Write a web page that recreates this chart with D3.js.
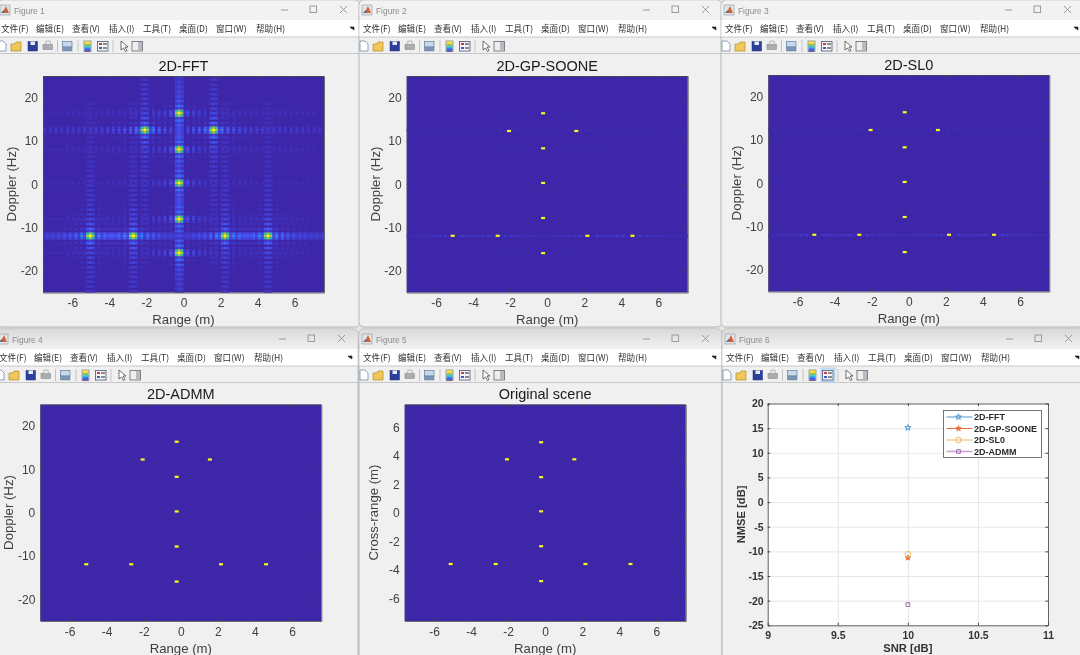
<!DOCTYPE html>
<html>
<head>
<meta charset="utf-8">
<script src="https://cdn.jsdelivr.net/npm/d3@7"></script>
<style>
html, body { margin: 0; padding: 0; background: #e4e4e4; overflow: hidden; }
svg { display: block; filter: blur(0.3px); }
text { font-family: "Liberation Sans", Arial, sans-serif; }
.menu { font-family: "Noto Sans CJK SC", sans-serif; font-size: 8.6px; fill: #303030; }
.tick text { font-family: "Liberation Sans", Arial, sans-serif; }
</style>
</head>
<body>
<div id="chart"></div>
<script>
// scene: positions
var targetRange = [-0.22, -2.06, 1.57, -0.22, -0.22, -0.22, -5.1, -2.67, 2.17, 4.6, -0.22];
var targetDoppler = [16.4, 12.3, 12.3, 8.3, 0.3, -7.8, -11.9, -11.9, -11.9, -11.9, -15.9];
var targetCross = [4.95, 3.75, 3.75, 2.5, 0.1, -2.35, -3.6, -3.6, -3.6, -3.6, -4.8];

// how far each target's sidelobes carry along its row / its column in the 2D-FFT panel
var targetRowSpread = [.6, 1.1, 1.1, .6, .5, .6, 1.3, 1.3, 1.3, 1.3, .6];
var targetColSpread = [1, .85, .85, 1, 1, 1, .85, .85, .85, .85, 1];

// sidelobe level by cell offset from a peak
var rangeLobes = [1, .7, .1, .22, .02, .16, .015, .125, .012, .105, .01, .09, .01, .08, .01, .075, .008, .07, .008, .066,
  .008, .062, .007, .06, .007, .058, .007, .056, .006, .054, .006, .052, .006, .05, .006, .05, .005, .048, .005, .048,
  .005, .046, .005, .046, .005, .045, .005, .045];
var dopplerLobes = [1, .7, .1, .24, .02, .18, .015, .14, .012, .12, .01, .105, .01, .095, .01, .085, .008, .08, .008, .075,
  .008, .07, .007, .068, .007, .065, .007, .062, .006, .06, .006, .058, .006, .055, .006, .052, .005, .05, .005, .048,
  .005, .046, .005, .045, .005, .044, .005, .042, .005, .04, .005, .04, .005, .038, .005, .036];

// faint leftovers along the rows in the sparse panels
var soonStreakRows = [-11.9, 12.3, 8.3, -15.9, 16.4];
var soonStreakLevels = [.3, .14, .07, .06, .06];
var sl0StreakRows = [-11.9, 12.3];
var sl0StreakLevels = [.32, .1];

var snr = [10];
var nmseFFT = [15.1];
var nmseGP = [-11.3];
var nmseSL0 = [-10.6];
var nmseADMM = [-20.8];
var legendNames = ["2D-FFT", "2D-GP-SOONE", "2D-SL0", "2D-ADMM"];

var menuLabels = ["文件(F)", "编辑(E)", "查看(V)", "插入(I)", "工具(T)", "桌面(D)", "窗口(W)", "帮助(H)"];
var menuOffsets = [4, 39, 75, 112, 146, 182, 219, 259];
var rangeTicks = [-6, -4, -2, 0, 2, 4, 6];
var dopplerTicks = [-20, -10, 0, 10, 20];
var crossTicks = [-6, -4, -2, 0, 2, 4, 6];
var snrTicks = [9, 9.5, 10, 10.5, 11];
var nmseTicks = [-25, -20, -15, -10, -5, 0, 5, 10, 15, 20];

var parula = ["#3e26a8", "#4752f4", "#2d87f7", "#12b1d6", "#37c897", "#abc739", "#fec338", "#f9fb15"];
var color = d3.scaleLinear().domain(parula.map(function(d, i) { return i / 7; })).range(parula).clamp(true);

var nCols = 98, nRows = 90;
var rangeDomain = [-7.58, 7.58];
var plainNumber = function(d) { return String(d); };

var svg = d3.select("#chart").append("svg").attr("width", 1080).attr("height", 655);
var defs = svg.append("defs");

var blur = defs.append("filter").attr("id", "soft").attr("color-interpolation-filters", "sRGB")
  .attr("x", "-2%").attr("y", "-2%").attr("width", "104%").attr("height", "104%");
blur.append("feGaussianBlur").attr("stdDeviation", "0.55");

var tg = defs.append("linearGradient").attr("id", "titlebar").attr("x1", 0).attr("y1", 0).attr("x2", 0).attr("y2", 1);
tg.append("stop").attr("offset", 0).attr("stop-color", "#dadada");
tg.append("stop").attr("offset", 1).attr("stop-color", "#f1f1f1");

//draw one window frame: title bar, menu strip and toolbar
function drawWindow(wx, wy, title, h, selectedLegend) {
  var g = svg.append("g").attr("transform", "translate(" + wx + "," + wy + ")");
  g.append("rect").attr("width", 363).attr("height", h).attr("rx", 5).attr("fill", "#f0f0f0")
    .attr("stroke", "#a8a8a8").attr("stroke-width", 0.8);
  g.append("rect").attr("x", 0.5).attr("y", 0.5).attr("width", 362).attr("height", 19).attr("rx", 5)
    .attr("fill", wy > 0 ? "url(#titlebar)" : "#f2f2f2");
  g.append("rect").attr("y", 20).attr("x", 0.5).attr("width", 362).attr("height", 17).attr("fill", "#ffffff");
  g.append("line").attr("x1", 0).attr("x2", 363).attr("y1", 37).attr("y2", 37).attr("stroke", "#c8c8c8");
  g.append("line").attr("x1", 0).attr("x2", 363).attr("y1", 53.5).attr("y2", 53.5).attr("stroke", "#c8c8c8");

  // matlab icon
  g.append("rect").attr("x", 3).attr("y", 5).attr("width", 10).attr("height", 10).attr("fill", "#dfe4ea").attr("stroke", "#8a98a8").attr("stroke-width", 0.6);
  g.append("path").attr("d", "M4 13 L7 10 L9 6 L12 13 Z").attr("fill", "#d9622b");
  g.append("path").attr("d", "M4 13 L7 10 L8 12 Z").attr("fill", "#3c6fb0");

  g.append("text").attr("x", 17).attr("y", 14).attr("font-size", 8.4).attr("fill", "#8c8c8c").text(title);

  // window buttons
  g.append("line").attr("x1", 284).attr("x2", 291).attr("y1", 10).attr("y2", 10).attr("stroke", "#9a9a9a");
  g.append("rect").attr("x", 313).attr("y", 6).attr("width", 6.5).attr("height", 6.5).attr("fill", "none").attr("stroke", "#9a9a9a");
  g.append("path").attr("d", "M343 6 L350 13 M350 6 L343 13").attr("stroke", "#9a9a9a").attr("fill", "none");

  g.selectAll("text.menu").data(menuLabels).enter().append("text").attr("class", "menu")
    .attr("x", function(d, i) { return menuOffsets[i]; }).attr("y", 32.3)
    .text(function(d) { return d; });
  g.append("path").attr("d", "M353 27 L357 30 L357 27 Z M353 27 L355 29").attr("fill", "#222").attr("stroke", "#222").attr("stroke-width", 0.6);

  // toolbar
  var t = g.append("g").attr("transform", "translate(0,40)");
  if (selectedLegend) {
    t.append("rect").attr("x", 99).attr("y", -1).attr("width", 14).attr("height", 13.5).attr("fill", "#cde4f7").attr("stroke", "#90c4ea").attr("stroke-width", 0.6);
  }
  t.append("path").attr("d", "M1 1 H6 L9 4 V11 H1 Z").attr("fill", "#ffffff").attr("stroke", "#5f7f9f").attr("stroke-width", 0.7);
  t.append("path").attr("d", "M14 4 H18 L19 2 H24 V11 H14 Z").attr("fill", "#f0c75a").attr("stroke", "#b48a2a").attr("stroke-width", 0.7);
  t.append("rect").attr("x", 31).attr("y", 1.5).attr("width", 9.5).attr("height", 9.5).attr("fill", "#2c3f9a").attr("stroke", "#20307a").attr("stroke-width", 0.5);
  t.append("rect").attr("x", 33.5).attr("y", 1.5).attr("width", 4.5).attr("height", 3.5).attr("fill", "#e8ecf4");
  t.append("rect").attr("x", 46).attr("y", 4.5).attr("width", 9.5).attr("height", 5).attr("fill", "#a9adb2").attr("stroke", "#7b7f85").attr("stroke-width", 0.5);
  t.append("path").attr("d", "M48 4.5 L49 1 H53 L54 4.5 Z").attr("fill", "#e6e6e6").attr("stroke", "#8c8c8c").attr("stroke-width", 0.5);
  t.append("rect").attr("x", 65.5).attr("y", 1.5).attr("width", 9.5).attr("height", 5.5).attr("fill", "#c9d7ea").attr("stroke", "#5f7f9f").attr("stroke-width", 0.7);
  t.append("rect").attr("x", 65.5).attr("y", 7).attr("width", 9.5).attr("height", 4).attr("fill", "#7d94b5").attr("stroke", "#5f7f9f").attr("stroke-width", 0.5);
  parula.forEach(function(c, i) {
    t.append("rect").attr("x", 87.5).attr("y", 1.2 + (7 - i) * 1.3).attr("width", 6).attr("height", 1.4).attr("fill", c);
  });
  t.append("rect").attr("x", 87).attr("y", 1).attr("width", 7).attr("height", 10.6).attr("fill", "none").attr("stroke", "#6a6a6a").attr("stroke-width", 0.6);
  t.append("rect").attr("x", 100.5).attr("y", 1.5).attr("width", 10.5).attr("height", 9.5).attr("fill", "#f5f5f5").attr("stroke", "#44557a").attr("stroke-width", 0.8);
  t.append("rect").attr("x", 102).attr("y", 3).attr("width", 3).attr("height", 2).attr("fill", "#cc3b3b");
  t.append("rect").attr("x", 102).attr("y", 7).attr("width", 3).attr("height", 2).attr("fill", "#3b58cc");
  t.append("rect").attr("x", 106).attr("y", 3).attr("width", 4).attr("height", 2).attr("fill", "#8a8a8a");
  t.append("rect").attr("x", 106).attr("y", 7).attr("width", 4).attr("height", 2).attr("fill", "#8a8a8a");
  t.append("path").attr("d", "M124 1 V10 L126.5 8 L128.5 11.5 L130 10.6 L128 7 L131 7 Z").attr("fill", "#ffffff").attr("stroke", "#333").attr("stroke-width", 0.7);
  t.append("rect").attr("x", 135).attr("y", 1.5).attr("width", 10.5).attr("height", 9.5).attr("fill", "#eeeeee").attr("stroke", "#555").attr("stroke-width", 0.7);
  t.append("rect").attr("x", 141).attr("y", 2).attr("width", 4).attr("height", 8.5).attr("fill", "#b5bcc6");
  [60.5, 81, 116].forEach(function(x) {
    t.append("line").attr("x1", x).attr("x2", x).attr("y1", 0).attr("y2", 12).attr("stroke", "#c4c4c4");
  });
}

//cell values for a dense panel: the strongest sidelobe of any target wins
function denseCells(cellCol, cellRow) {
  var cells = [];
  var tCols = targetRange.map(function(d) { return cellCol(d); });
  var tRows = targetDoppler.map(function(d) { return cellRow(d); });
  d3.range(nRows).forEach(function(r) {
    d3.range(nCols).forEach(function(c) {
      var v = 0;
      tCols.forEach(function(tc, i) {
        var dc = Math.abs(c - tc), dr = Math.abs(r - tRows[i]);
        var a = (rangeLobes[dc] || 0) * (dc < 2 ? 1 : targetRowSpread[i]);
        var b = (dopplerLobes[dr] || 0) * (dr < 2 ? 1 : targetColSpread[i]);
        v = Math.max(v, a * b);
      });
      if (v > 0.02) cells.push({ row: r, col: c, value: v });
    });
  });
  return cells;
}

//faint rows for a sparse panel, the same sidelobes but much weaker
function streakCells(cellCol, cellRow, yValues, streakRows, streakLevels) {
  var cells = [];
  var tCols = targetRange.map(function(d) { return cellCol(d); });
  streakRows.forEach(function(rowValue, k) {
    var r = cellRow(rowValue);
    d3.range(nCols).forEach(function(c) {
      var v = 0;
      tCols.forEach(function(tc, i) {
        var dc = Math.abs(c - tc);
        if (cellRow(yValues[i]) == r && dc > 2) v = Math.max(v, rangeLobes[dc] || 0);
      });
      v *= streakLevels[k];
      if (v > 0.004) cells.push({ row: r, col: c, value: v });
    });
  });
  return cells;
}

//draw one image panel with its box, ticks and labels
function drawPanel(p) {
  var x = d3.scaleLinear().domain(rangeDomain).range([p.left, p.left + 281]);
  var y = d3.scaleLinear().domain(p.yDomain).range([p.top + 216.5, p.top]);
  var cellCol = d3.scaleLinear().domain(rangeDomain).rangeRound([-0.5, nCols - 0.5]);
  var cellRow = d3.scaleLinear().domain(p.yDomain).rangeRound([nRows - 0.5, -0.5]);
  var bandX = d3.scaleBand().domain(d3.range(nCols)).range([p.left, p.left + 281]);
  var bandY = d3.scaleBand().domain(d3.range(nRows)).range([p.top, p.top + 216.5]);

  var cells = p.dense ? denseCells(cellCol, cellRow)
    : streakCells(cellCol, cellRow, p.yValues, p.streakRows, p.streakLevels);

  svg.append("rect").attr("x", p.left).attr("y", p.top).attr("width", 281).attr("height", 216.5).attr("fill", parula[0]);

  var img = svg.append("g").attr("filter", "url(#soft)");
  img.selectAll("rect").data(cells).enter().append("rect")
    .attr("x", function(d) { return bandX(d.col); })
    .attr("y", function(d) { return bandY(d.row); })
    .attr("width", bandX.bandwidth() + 0.2)
    .attr("height", bandY.bandwidth() + 0.2)
    .attr("fill", function(d) { return color(d.value); });

  // the recovered targets are single bright pixels
  if (!p.dense) {
    svg.append("g").selectAll("rect").data(targetRange).enter().append("rect")
      .attr("x", function(d) { return x(d) - 2; })
      .attr("y", function(d, i) { return y(p.yValues[i]) - 1.1; })
      .attr("width", 4)
      .attr("height", 2.2)
      .attr("fill", parula[7]);
  }

  var axisColor = "#4a4a4a";
  function style(g) {
    g.selectAll("path").attr("stroke", axisColor).attr("stroke-width", 0.8);
    g.selectAll("line").attr("stroke", axisColor).attr("stroke-width", 0.7);
    g.selectAll("text").attr("fill", "#404040").attr("font-size", 12);
  }

  svg.append("g").attr("transform", "translate(0," + (p.top + 216.5) + ")")
    .call(d3.axisBottom(x).tickValues(rangeTicks).tickFormat(plainNumber).tickSizeInner(-3).tickSizeOuter(0).tickPadding(6))
    .call(style);
  svg.append("g").attr("transform", "translate(0," + p.top + ")")
    .call(d3.axisTop(x).tickValues(rangeTicks).tickFormat("").tickSizeInner(-3).tickSizeOuter(0))
    .call(style);
  svg.append("g").attr("transform", "translate(" + p.left + ",0)")
    .call(d3.axisLeft(y).tickValues(p.yTicks).tickFormat(plainNumber).tickSizeInner(-3).tickSizeOuter(0).tickPadding(5))
    .call(style);
  svg.append("g").attr("transform", "translate(" + (p.left + 281) + ",0)")
    .call(d3.axisRight(y).tickValues(p.yTicks).tickFormat("").tickSizeInner(-3).tickSizeOuter(0))
    .call(style);

  svg.append("text").attr("x", p.left + 140.5).attr("y", p.top - 5.5).attr("text-anchor", "middle")
    .attr("font-size", 14.5).attr("fill", "#1a1a1a").text(p.title);
  svg.append("text").attr("x", p.left + 140.5).attr("y", p.top + 248).attr("text-anchor", "middle")
    .attr("font-size", 13.2).attr("fill", "#404040").text("Range (m)");
  svg.append("text").attr("transform", "translate(" + (p.left - 27) + "," + (p.top + 108) + ") rotate(-90)")
    .attr("text-anchor", "middle").attr("font-size", 13.2).attr("fill", "#404040").text(p.yLabel);
}

//the NMSE figure in the last window
function drawNmse() {
  var left = 767.7, right = 1048, top = 403.5, bottom = 625.3;
  var x = d3.scaleLinear().domain([9, 11]).range([left, right]);
  var y = d3.scaleLinear().domain([-25, 20]).range([bottom, top]);

  svg.append("rect").attr("x", left).attr("y", top).attr("width", right - left).attr("height", bottom - top).attr("fill", "#ffffff");

  var axisColor = "#444";
  function style(g) {
    g.selectAll("path").attr("stroke", axisColor).attr("stroke-width", 0.8);
    g.selectAll("text").attr("fill", "#333").attr("font-size", 10.5).attr("font-weight", "bold");
  }
  // grid
  svg.append("g").attr("transform", "translate(0," + bottom + ")")
    .call(d3.axisBottom(x).tickValues(snrTicks).tickFormat("").tickSizeInner(-(bottom - top)).tickSizeOuter(0))
    .call(function(g) { g.select(".domain").remove(); g.selectAll("line").attr("stroke", "#e6e6e6"); });
  svg.append("g").attr("transform", "translate(" + left + ",0)")
    .call(d3.axisLeft(y).tickValues(nmseTicks).tickFormat("").tickSizeInner(-(right - left)).tickSizeOuter(0))
    .call(function(g) { g.select(".domain").remove(); g.selectAll("line").attr("stroke", "#e6e6e6"); });

  svg.append("g").attr("transform", "translate(0," + bottom + ")")
    .call(d3.axisBottom(x).tickValues(snrTicks).tickFormat(plainNumber).tickSizeInner(-2.5).tickSizeOuter(0).tickPadding(6))
    .call(style).selectAll("line").attr("stroke", axisColor);
  svg.append("g").attr("transform", "translate(0," + top + ")")
    .call(d3.axisTop(x).tickValues(snrTicks).tickFormat("").tickSizeInner(-2.5).tickSizeOuter(0))
    .call(style).selectAll("line").attr("stroke", axisColor);
  svg.append("g").attr("transform", "translate(" + left + ",0)")
    .call(d3.axisLeft(y).tickValues(nmseTicks).tickFormat(plainNumber).tickSizeInner(-2.5).tickSizeOuter(0).tickPadding(4))
    .call(style).selectAll("line").attr("stroke", axisColor);
  svg.append("g").attr("transform", "translate(" + right + ",0)")
    .call(d3.axisRight(y).tickValues(nmseTicks).tickFormat("").tickSizeInner(-2.5).tickSizeOuter(0))
    .call(style).selectAll("line").attr("stroke", axisColor);

  svg.append("text").attr("x", (left + right) / 2).attr("y", 651.5).attr("text-anchor", "middle")
    .attr("font-size", 11.2).attr("font-weight", "bold").attr("fill", "#333").text("SNR [dB]");
  svg.append("text").attr("transform", "translate(745," + ((top + bottom) / 2) + ") rotate(-90)")
    .attr("text-anchor", "middle").attr("font-size", 11.2).attr("font-weight", "bold").attr("fill", "#333").text("NMSE [dB]");

  var series = [
    { values: nmseFFT, color: "#4c97cf", symbol: d3.symbolStar, size: 11, fillIn: false, width: 1 },
    { values: nmseGP, color: "#e2703a", symbol: d3.symbolStar, size: 9, fillIn: true, width: 1 },
    { values: nmseSL0, color: "#edb95a", symbol: d3.symbolCircle, size: 26, fillIn: false, width: 1 },
    { values: nmseADMM, color: "#a468b5", symbol: d3.symbolSquare, size: 14, fillIn: false, width: 1 }
  ];

  function marker(g, s, px, py) {
    g.append("path").attr("transform", "translate(" + px + "," + py + ")")
      .attr("d", d3.symbol().type(s.symbol).size(s.size)())
      .attr("fill", s.fillIn ? s.color : "none")
      .attr("stroke", s.color).attr("stroke-width", s.width);
  }

  var points = svg.append("g");
  series.forEach(function(s) {
    s.values.forEach(function(v, i) {
      marker(points, s, x(snr[i]), y(v));
    });
  });

  // legend
  var lx = 943.5, ly = 410.5, lw = 98, lh = 47;
  svg.append("rect").attr("x", lx).attr("y", ly).attr("width", lw).attr("height", lh)
    .attr("fill", "#ffffff").attr("stroke", "#555").attr("stroke-width", 0.8);
  var rowY = [417, 428.5, 440, 451.5];
  var rowWidth = [1, 1, 1.6, 1.6];
  var rowFade = [1, 1, 0.6, 0.6];
  legendNames.forEach(function(name, i) {
    var s = series[i];
    var row = svg.append("g");
    row.append("line").attr("x1", lx + 3).attr("x2", lx + 29).attr("y1", rowY[i]).attr("y2", rowY[i])
      .attr("stroke", s.color).attr("stroke-width", rowWidth[i]).attr("opacity", rowFade[i]);
    marker(row, s, lx + 15, rowY[i]);
    row.append("text").attr("x", lx + 30.5).attr("y", rowY[i] + 3.3).attr("font-size", 9)
      .attr("font-weight", "bold").attr("fill", "#2a2a2a").text(name);
  });
}

// windows, back to front
drawWindow(-3, 0, "Figure 1", 327, false);
drawWindow(359, 0, "Figure 2", 327, false);
drawWindow(721, 0, "Figure 3", 327, false);
drawWindow(-5, 329, "Figure 4", 340, false);
drawWindow(359, 329, "Figure 5", 340, false);
drawWindow(722, 329, "Figure 6", 340, true);

drawPanel({ title: "2D-FFT", left: 43, top: 76, yDomain: [-25, 25], yTicks: dopplerTicks, yLabel: "Doppler (Hz)", dense: true });
drawPanel({ title: "2D-GP-SOONE", left: 406.7, top: 76, yDomain: [-25, 25], yTicks: dopplerTicks, yLabel: "Doppler (Hz)",
  yValues: targetDoppler, streakRows: soonStreakRows, streakLevels: soonStreakLevels });
drawPanel({ title: "2D-SL0", left: 768.3, top: 75, yDomain: [-25, 25], yTicks: dopplerTicks, yLabel: "Doppler (Hz)",
  yValues: targetDoppler, streakRows: sl0StreakRows, streakLevels: sl0StreakLevels });
drawPanel({ title: "2D-ADMM", left: 40.3, top: 404.5, yDomain: [-25, 25], yTicks: dopplerTicks, yLabel: "Doppler (Hz)",
  yValues: targetDoppler, streakRows: [], streakLevels: [] });
drawPanel({ title: "Original scene", left: 404.7, top: 404.5, yDomain: [-7.6, 7.6], yTicks: crossTicks, yLabel: "Cross-range (m)",
  yValues: targetCross, streakRows: [], streakLevels: [] });
drawNmse();
</script>
</body>
</html>
